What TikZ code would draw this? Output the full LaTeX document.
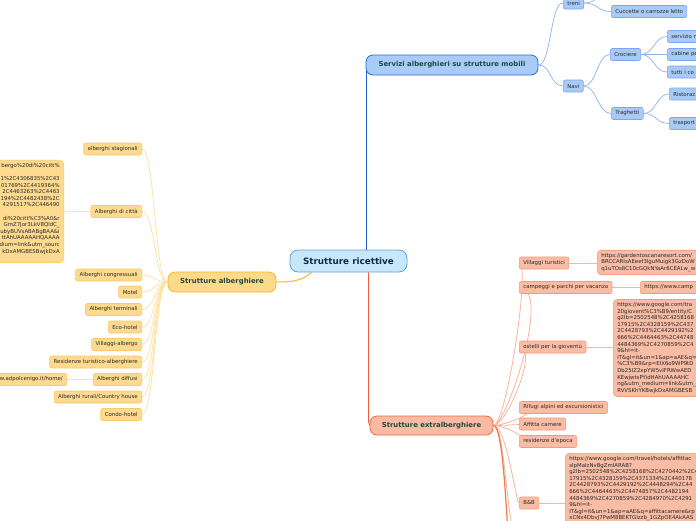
\documentclass[tikz,border=0pt]{standalone}
\usepackage{fontspec}
\setmainfont{DejaVu Sans}
\usetikzlibrary{calc,backgrounds}
\definecolor{txt}{HTML}{2A2A2A}
\definecolor{maintxt}{HTML}{1F4A3C}
\definecolor{roottxt}{HTML}{0E2A4C}
\definecolor{rootfill}{HTML}{C8E8FA}
\definecolor{rootdraw}{HTML}{5DA2DA}
\definecolor{yfill}{HTML}{FDDA8E}
\definecolor{ydraw}{HTML}{F8CA6A}
\definecolor{ymainfill}{HTML}{FDD98A}
\definecolor{ymaindraw}{HTML}{F5B82A}
\definecolor{ylink}{HTML}{FDE3A6}
\definecolor{ymainlink}{HTML}{F6B825}
\definecolor{bfill}{HTML}{A9C9F6}
\definecolor{bdraw}{HTML}{7AA7EE}
\definecolor{bmainfill}{HTML}{A8CCF7}
\definecolor{bmaindraw}{HTML}{2D6DD6}
\definecolor{blink}{HTML}{8DB3F0}
\definecolor{bmainlink}{HTML}{1E5FD8}
\definecolor{rfill}{HTML}{F9BCA5}
\definecolor{rdraw}{HTML}{F59A78}
\definecolor{rmainfill}{HTML}{F9BBA3}
\definecolor{rmaindraw}{HTML}{F06A3A}
\definecolor{rlink}{HTML}{F8B59C}
\definecolor{rdark}{HTML}{F2784A}
\definecolor{rmainlink}{HTML}{F0603A}
\tikzset{
  nodebase/.style={font=\fontsize{5.4}{6.4}\selectfont, text=txt, inner xsep=4pt, inner ysep=0pt,
    minimum height=12pt, rounded corners=2pt, line width=0.6pt},
  ychild/.style={nodebase, fill=yfill, draw=ydraw, anchor=east},
  bchild/.style={nodebase, fill=bfill, draw=bdraw, anchor=west},
  rchild/.style={nodebase, fill=rfill, draw=rdraw, anchor=west},
  cutbox/.style={text width=45pt, align=left},
  urlbox/.style={font=\fontsize{5.4}{6.6}\selectfont, text=txt, inner xsep=4pt, inner ysep=3pt,
    rounded corners=4pt, line width=0.6pt},
  yurl/.style={urlbox, fill=yfill, draw=ydraw, anchor=east, text width=110pt, align=right},
  rurl/.style={urlbox, fill=rfill, draw=rdraw, anchor=west, text width=150pt, align=left},
  mainbox/.style={font=\bfseries\fontsize{6.9}{8}\selectfont, text=maintxt, rounded corners=7pt,
    line width=0.8pt, minimum height=20pt, inner sep=0pt},
  rootbox/.style={font=\bfseries\fontsize{8.8}{10}\selectfont, text=roottxt, rounded corners=8pt,
    line width=0.8pt, fill=rootfill, draw=rootdraw, minimum width=117pt, minimum height=22pt, inner sep=0pt},
  ycon/.style={draw=ylink, line width=0.8pt},
  bcon/.style={draw=blink, line width=0.7pt},
  rcon/.style={draw=rlink, line width=0.8pt},
}
\begin{document}
\begin{tikzpicture}[x=1pt,y=-1pt]
\useasboundingbox (0,0) rectangle (696,520);
\clip (0,0) rectangle (696,520);

% main nodes
\node[rootbox] (root) at (348.5,261) {Strutture ricettive};
\node[mainbox, fill=ymainfill, draw=ymaindraw, minimum width=108pt] (alb) at (222,282) {Strutture alberghiere};
\node[mainbox, fill=bmainfill, draw=bmaindraw, minimum width=172pt] (serv) at (452,65) {Servizi alberghieri su strutture mobili};
\node[mainbox, fill=rmainfill, draw=rmaindraw, minimum width=123pt, minimum height=19pt] (extra) at (431.5,425.5) {Strutture extralberghiere};

% yellow children
\node[ychild] (y1) at (142,149) {alberghi stagionali};
\node[ychild] (y2) at (142,211.5) {Alberghi di città};
\node[ychild] (y3) at (142,275) {Alberghi congressuali};
\node[ychild] (y4) at (142,292) {Motel};
\node[ychild] (y5) at (142,309.5) {Alberghi terminali};
\node[ychild] (y6) at (142,327) {Eco-hotel};
\node[ychild] (y7) at (142,344.5) {Villaggi-albergo};
\node[ychild] (y8) at (142,362) {Residenze turistico-alberghiere};
\node[ychild] (y9) at (142,379.5) {Alberghi diffusi};
\node[ychild] (y10) at (142,397) {Alberghi rurali/Country house};
\node[ychild] (y11) at (142,414.5) {Condo-hotel};

\node[yurl] (yu1) at (64,211.5) {bergo\%20di\%20citt\%\\\mbox{}\\1\%2C4306835\%2C43\\01769\%2C4419364\%\\2C4463263\%2C4463\\194\%2C4482438\%2C\\4291517\%2C446490\\\mbox{}\\di\%20citt\%C3\%A0\&r\\GmZ7Jor3LkV8QldC\_\\ubyBUVsABABgBAA\&i\\ttAhUAAAAAHQAAAA\\dium=link\&utm\_sourc\\kDxAMGBESBwjkDxA\\\mbox{}};
\node[ychild, text width=110pt, align=right] (yu2) at (67,379.5) {w.adpolcenigo.it/home/};

% blue children
\node[bchild] (treni) at (563,3) {treni};
\node[bchild, minimum width=56pt] (hid) at (611,-6.5) {};
\node[bchild] (cucc) at (611,11.5) {Cuccette o carrozze letto};
\node[bchild] (navi) at (563,86) {Navi};
\node[bchild] (croc) at (610,54.5) {Crociere};
\node[bchild] (trag) at (611,113.5) {Traghetti};
\node[bchild, cutbox] (c1) at (667,36.5) {servizio r};
\node[bchild, cutbox] (c2) at (667,54.5) {cabine pe};
\node[bchild, cutbox] (c3) at (667,72) {tutti i co};
\node[bchild, cutbox] (t1) at (669,94) {Ristoraz};
\node[bchild, cutbox] (t2) at (669,123.5) {trasport};

% red children
\node[rchild] (vt) at (519,263) {Villaggi turistici};
\node[rchild] (camp) at (519,287.5) {campeggi e parchi per vacanza};
\node[rchild] (ost) at (519,347) {ostelli per la gioventù};
\node[rchild] (rif) at (519,407.5) {Rifugi alpini ed escursionistici};
\node[rchild] (aff) at (519,424) {Affitta camere};
\node[rchild] (epo) at (519,441.5) {residenze d'epoca};
\node[rchild] (bb) at (519,503) {B\&B};
\coordinate (off1) at (519,540);
\coordinate (off2) at (519,620);

\node[rurl] (ru1) at (597,262.5) {https://gardentoscanaresort.com/\\BRCCARIsAEeef3lguMuigk3GzDoW\\q1uTOs8C10cGQkNYaAr6CEALw\_w};
\node[rchild, text width=100pt, align=left] (ru2) at (640,287.5) {https://www.camp};
\node[rurl, text width=130pt] (ru3) at (613,348) {https://www.google.com/tra\\20giovent\%C3\%B9/entity/C\\g2lb=2502548\%2C4258168\\17915\%2C4328159\%2C437\\2C4428793\%2C4429192\%2\\666\%2C4464463\%2C44748\\4484369\%2C4270859\%2C4\\9\&hl=it-\\IT\&gl=it\&un=1\&ap=aAE\&q=\\\%C3\%B9\&rp=EIX6o9WP9tD\\Db25IZ2xpYW5vIFRWwAED\\KEwjwtsPYidHAhUAAAAHC\\ng\&utm\_medium=link\&utm\_\\RVVSKhYKBwjkDxAMGBESB};
\node[rurl, anchor=north west, text width=160pt] (ru4) at (565,453) {https://www.google.com/travel/hotels/affittac\\sIpMaIzNvBgZmIARAB?\\g2lb=2502548\%2C4258168\%2C4270442\%2C4\\17915\%2C4328159\%2C4371334\%2C440178\\2C4428793\%2C4429192\%2C4448294\%2C44\\666\%2C4464463\%2C4474857\%2C4482194\\4484369\%2C4270859\%2C4284970\%2C4291\\9\&hl=it-\\IT\&gl=it\&un=1\&ap=aAE\&q=affittacamere\&rp\\xCNx4DbvJ7PwM8BEKTGIzzb\_1GZpOE4AkAAS};

\begin{scope}[on background layer]
  \fill[white] (0,0) rectangle (696,520);
  % main links
  \draw[ymainlink, line width=1pt] ($(root.south west)+(22,0)$) .. controls +(-10,9) and +(14,0) .. (alb.east);
  \draw[bmainlink, line width=1pt] ($(root.north -| serv.west)+(1,0)$) -- ($(serv.west)+(1,4)$);
  \draw[rmainlink, line width=1pt] ($(root.south -| extra.west)+(-1,0)$) -- ($(extra.west)+(-1,-10)$) .. controls +(0,6) and +(-1,-3) .. (extra.west);
  % yellow
  \foreach \n in {y1,y2,y3,y4,y5,y6,y7,y8,y9,y10,y11}
    \draw[ycon] (alb.west) .. controls +(-13,0) and +(13,0) .. (\n.east);
  \draw[ycon] (y2.west) -- (yu1.east);
  \draw[ycon] (y9.west) -- (yu2.east);
  % blue
  \foreach \a/\b in {serv/treni,serv/navi,treni/hid,treni/cucc,navi/croc,navi/trag,croc/c1,croc/c2,croc/c3,trag/t1,trag/t2}
    \draw[bcon] (\a.east) .. controls +(13,0) and +(-13,0) .. (\b.west);
  % red
  \foreach \n in {vt,camp,ost,rif,aff,epo,bb,off1}
    \draw[rcon] (extra.east) .. controls +(13,0) and +(-13,0) .. (\n);
  \draw[rdark, line width=1.2pt] (extra.east) .. controls +(15,0) and +(-12,0) .. (off2);
  \draw[rcon] (vt.east) -- (ru1.west |- vt.east);
  \draw[rcon] (camp.east) -- (ru2.west);
  \draw[rcon] (ost.east) -- (ru3.west |- ost.east);
  \draw[rcon] (bb.east) -- (ru4.west |- bb.east);
\end{scope}
\end{tikzpicture}
\end{document}
